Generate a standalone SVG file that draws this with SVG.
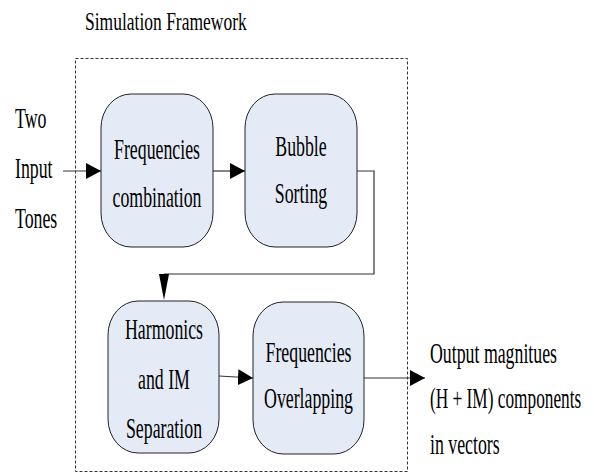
<svg xmlns="http://www.w3.org/2000/svg" width="594" height="472" viewBox="0 0 594 472">
<style>
  .t { font-family: "Liberation Serif", "Times New Roman", Times, serif; font-size: 29px; fill: #000; }
  .title { font-family: "Liberation Serif", "Times New Roman", Times, serif; font-size: 25px; fill: #000; }
  .mid { text-anchor: middle; }
  .box { fill: #E5EBF6; stroke: #222; stroke-width: 1; }
  .wire { fill: none; stroke: #333; stroke-width: 1.2; }
  .frame { fill: none; stroke: #333; stroke-width: 1; stroke-dasharray: 3 2; }
</style>
<defs>
  <marker id="ah" viewBox="0 0 15 16" refX="15" refY="8" markerWidth="15" markerHeight="16" markerUnits="userSpaceOnUse" orient="auto">
    <path d="M0,0 L15,8 L0,16 Z" fill="#000"/>
  </marker>
</defs>
<rect width="594" height="472" fill="#fff"/>

<text class="title" transform="translate(85,30) scale(0.70,1)">Simulation Framework</text>

<rect class="frame" x="75.5" y="58.5" width="332" height="413"/>

<g id="inputs">
  <text class="t" transform="translate(15,128) scale(0.614,1)">Two</text>
  <text class="t" transform="translate(15,178) scale(0.614,1)">Input</text>
  <text class="t" transform="translate(15,228) scale(0.614,1)">Tones</text>
</g>

<g id="n1">
  <rect class="box" x="101" y="94" width="112" height="153" rx="30" ry="34"/>
  <text class="t mid" transform="translate(157,159) scale(0.614,1)">Frequencies</text>
  <text class="t mid" transform="translate(157,207) scale(0.614,1)">combination</text>
</g>

<g id="n2">
  <rect class="box" x="245" y="94" width="112" height="153" rx="30" ry="34"/>
  <text class="t mid" transform="translate(301,156) scale(0.614,1)">Bubble</text>
  <text class="t mid" transform="translate(301,203) scale(0.614,1)">Sorting</text>
</g>

<g id="n3">
  <rect class="box" x="108" y="301" width="111" height="152" rx="30" ry="34"/>
  <text class="t mid" transform="translate(164,339) scale(0.614,1)">Harmonics</text>
  <text class="t mid" transform="translate(164,389) scale(0.614,1)">and IM</text>
  <text class="t mid" transform="translate(164,438) scale(0.614,1)">Separation</text>
</g>

<g id="n4">
  <rect class="box" x="253" y="302" width="111" height="152" rx="30" ry="34"/>
  <text class="t mid" transform="translate(308.5,362) scale(0.614,1)">Frequencies</text>
  <text class="t mid" transform="translate(308.5,408) scale(0.614,1)">Overlapping</text>
</g>

<g id="outputs">
  <text class="t" transform="translate(430,363) scale(0.614,1)">Output magnitues</text>
  <text class="t" transform="translate(430,408) scale(0.596,1)">(H + IM) components</text>
  <text class="t" transform="translate(430,454) scale(0.614,1)">in vectors</text>
</g>

<g id="connectors">
  <line class="wire" x1="63" y1="171" x2="101" y2="171" marker-end="url(#ah)"/>
  <line class="wire" x1="213" y1="171" x2="245" y2="171" marker-end="url(#ah)"/>
  <polyline class="wire" points="357,171 374,171 374,274 164,274"/>
  <path d="M159,274 L169,274 L164,300 Z" fill="#000"/>
  <line class="wire" x1="219" y1="376" x2="253" y2="378" marker-end="url(#ah)"/>
  <line class="wire" x1="364" y1="378" x2="425" y2="378" marker-end="url(#ah)"/>
</g>
</svg>
